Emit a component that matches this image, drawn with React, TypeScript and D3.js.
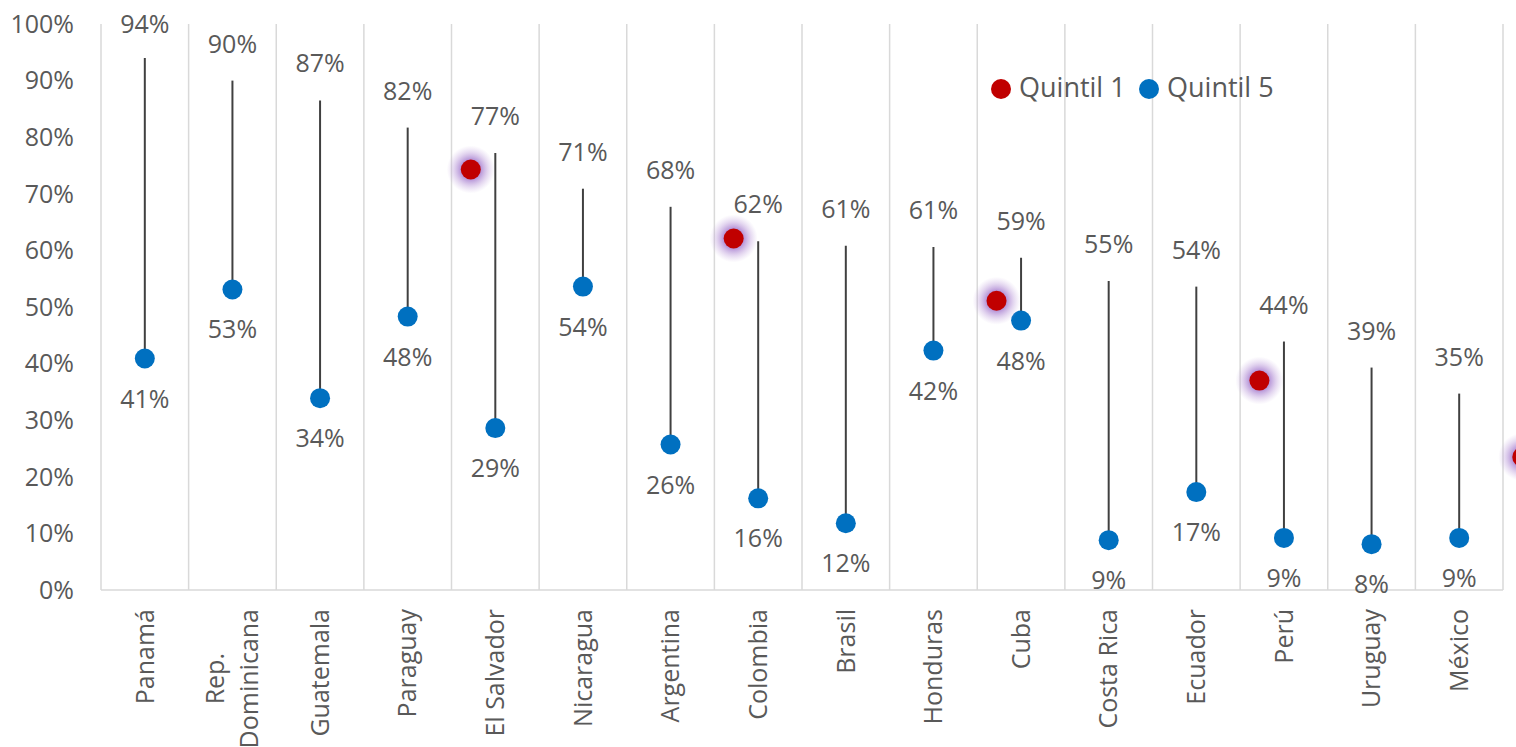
import React, { useEffect, useRef } from "react";
import * as d3 from "d3";

const countries = [
  "Panamá", "Rep. Dominicana", "Guatemala", "Paraguay", "El Salvador", "Nicaragua",
  "Argentina", "Colombia", "Brasil", "Honduras", "Cuba", "Costa Rica", "Ecuador",
  "Perú", "Uruguay", "México",
];
// top of each vertical line (labelled above)
const highValues = [94.0, 90.0, 86.5, 81.7, 77.2, 70.9, 67.7, 61.6, 60.8, 60.6, 58.7, 54.6, 53.6, 43.9, 39.3, 34.7];
// Quintil 5 (blue markers)
const quintil5 = [40.9, 53.1, 33.9, 48.3, 28.6, 53.6, 25.7, 16.2, 11.8, 42.3, 47.6, 8.8, 17.3, 9.2, 8.1, 9.2];
// Quintil 1 (red scatter series: x in category-index units, y in %)
const quintil1X = [3.72, 6.72, 9.72, 12.72, 15.72];
const quintil1Y = [74.3, 62.1, 51.1, 37.0, 23.5];
const yTicks = [0, 10, 20, 30, 40, 50, 60, 70, 80, 90, 100];
const legendItems = ["Quintil 1", "Quintil 5"];

const W = 1516;
const H = 747;
const FONT = "'Open Sans', sans-serif";
const TEXT = "#595959";
const RED = "#C00000";
const BLUE = "#0070C0";
const GRID = "#D9D9D9";

export default function App() {
  const ref = useRef<SVGSVGElement | null>(null);

  useEffect(() => {
    document.body.style.margin = "0";
    const svg = d3.select(ref.current);
    svg.selectAll("*").remove();

    const left = 101, right = 1503, top = 24, bottom = 590;
    const x = d3.scaleBand<string>().domain(countries).range([left, right]).padding(0);
    const xc = (c: string) => (x(c) as number) + x.bandwidth() / 2;
    const xLin = d3.scaleLinear().domain([-0.5, countries.length - 0.5]).range([left, right]);
    const y = d3.scaleLinear().domain([0, 100]).range([bottom, top]);
    const fmt = (v: number) => d3.format(".0f")(v) + "%";

    const defs = svg.append("defs");
    const rg = defs.append("radialGradient").attr("id", "glow");
    rg.append("stop").attr("offset", "0").attr("stop-color", "#A57CCF").attr("stop-opacity", 0.85);
    rg.append("stop").attr("offset", "0.42").attr("stop-color", "#A57CCF").attr("stop-opacity", 0.8);
    rg.append("stop").attr("offset", "0.7").attr("stop-color", "#B896D8").attr("stop-opacity", 0.4);
    rg.append("stop").attr("offset", "1").attr("stop-color", "#C8AEE0").attr("stop-opacity", 0);

    // vertical gridlines at category boundaries
    const bounds = countries.map((c) => x(c) as number).concat([right]);
    svg.append("g").selectAll("line").data(bounds).join("line")
      .attr("x1", (d) => d).attr("x2", (d) => d)
      .attr("y1", top).attr("y2", bottom)
      .attr("stroke", GRID).attr("stroke-width", 1.5);

    // baseline
    svg.append("line").attr("x1", left).attr("x2", right).attr("y1", bottom).attr("y2", bottom)
      .attr("stroke", GRID).attr("stroke-width", 1.5);

    // y tick labels
    svg.append("g").selectAll("text").data(yTicks).join("text")
      .attr("x", 74).attr("y", (d) => y(d)).attr("dy", "0.35em")
      .attr("text-anchor", "end").attr("font-family", FONT).attr("font-size", 25)
      .attr("fill", TEXT).text((d) => d + "%");

    // vertical lines
    svg.append("g").selectAll("line").data(countries).join("line")
      .attr("x1", (c) => xc(c)).attr("x2", (c) => xc(c))
      .attr("y1", (_c, i) => y(highValues[i])).attr("y2", (_c, i) => y(quintil5[i]))
      .attr("stroke", "#404040").attr("stroke-width", 2);

    // high labels
    svg.append("g").selectAll("text").data(countries).join("text")
      .attr("x", (c) => xc(c)).attr("y", (_c, i) => Math.max(33, y(highValues[i]) - 28))
      .attr("text-anchor", "middle").attr("font-family", FONT).attr("font-size", 25)
      .attr("fill", TEXT).text((_c, i) => fmt(highValues[i]));

    // blue markers
    svg.append("g").selectAll("circle").data(countries).join("circle")
      .attr("cx", (c) => xc(c)).attr("cy", (_c, i) => y(quintil5[i])).attr("r", 10)
      .attr("fill", BLUE);

    // blue labels
    svg.append("g").selectAll("text").data(countries).join("text")
      .attr("x", (c) => xc(c)).attr("y", (_c, i) => y(quintil5[i]) + 49)
      .attr("text-anchor", "middle").attr("font-family", FONT).attr("font-size", 25)
      .attr("fill", TEXT).text((_c, i) => fmt(quintil5[i]));

    // red markers with glow
    const red = svg.append("g").selectAll("g").data(quintil1X).join("g");
    red.append("circle").attr("cx", (d) => xLin(d)).attr("cy", (_d, i) => y(quintil1Y[i]))
      .attr("r", 24).attr("fill", "url(#glow)");
    red.append("circle").attr("cx", (d) => xLin(d)).attr("cy", (_d, i) => y(quintil1Y[i]))
      .attr("r", 10).attr("fill", RED);

    // category labels (rotated)
    const labelEnd = 609;
    countries.forEach((c) => {
      const lines = c === "Rep. Dominicana" ? ["Rep.", "Dominicana"] : [c];
      const g = svg.append("g").attr("transform", `translate(${xc(c)},${labelEnd}) rotate(-90)`);
      const n = lines.length;
      const lh = 34;
      const ts = lines.map((ln, k) =>
        g.append("text").attr("x", 0).attr("y", (k - (n - 1) / 2) * lh).attr("dy", "0.35em")
          .attr("text-anchor", "end").attr("font-family", FONT).attr("font-size", 25)
          .attr("fill", TEXT).text(ln)
      );
      if (n > 1) {
        const lens = ts.map((t) => (t.node() as SVGTextElement).getComputedTextLength());
        const mx = Math.max(...lens);
        ts.forEach((t, k) => t.attr("x", -(mx - lens[k]) / 2));
      }
    });

    // legend
    const lg = svg.append("g");
    const legendX = [1001, 1149];
    const legendColors = [RED, BLUE];
    legendItems.forEach((name, i) => {
      lg.append("circle").attr("cx", legendX[i]).attr("cy", 89).attr("r", 10).attr("fill", legendColors[i]);
      lg.append("text").attr("x", legendX[i] + 18).attr("y", 97).attr("font-family", FONT)
        .attr("font-size", 27).attr("fill", TEXT).text(name);
    });
  }, []);

  return <svg ref={ref} width={W} height={H} style={{ display: "block", background: "#fff" }} />;
}
